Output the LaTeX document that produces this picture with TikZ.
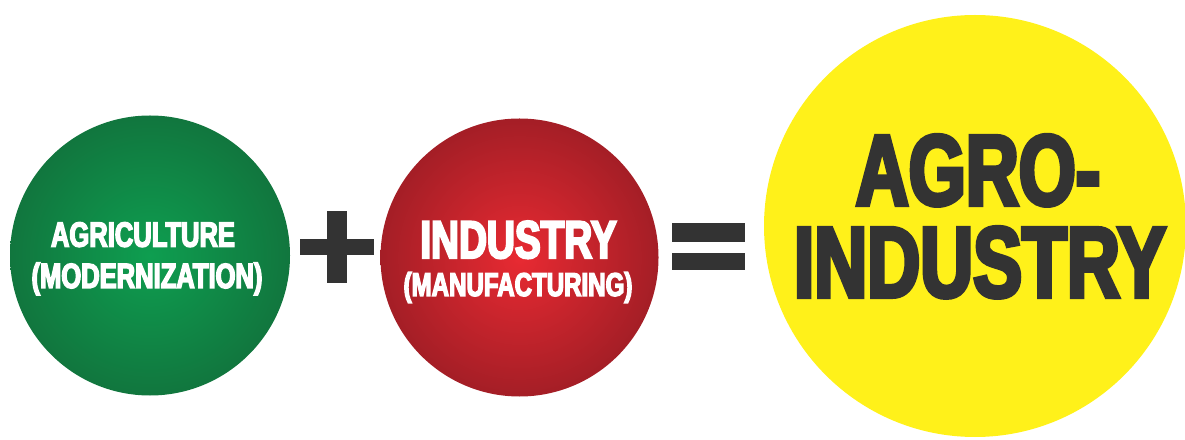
\documentclass[tikz,border=0pt]{standalone}
\usepackage{fontspec}
\newfontfamily\condfont[FakeStretch=0.73, BoldFeatures={FakeBold=4}]{Liberation Sans}
\usetikzlibrary{positioning}
\definecolor{agrigreen}{RGB}{14,158,80}
\definecolor{agrigreendark}{RGB}{17,118,62}
\definecolor{indred}{RGB}{232,42,50}
\definecolor{indreddark}{RGB}{164,30,38}
\definecolor{agroyellow}{RGB}{255,241,26}
\definecolor{signgray}{RGB}{51,51,51}

\begin{document}
\begin{tikzpicture}[x=1pt,y=1pt,
    ball/.style={circle, inner sep=0pt, draw=none},
    word/.style={anchor=base, inner sep=0pt, font=\condfont\bfseries\fontsize{#1}{#1}\selectfont}]
                \useasboundingbox (0,0) rectangle (1185,439);
                \node[ball, minimum size=280pt, inner color=agrigreen, outer color=agrigreendark] (agri) at (150,183.5) {};
                \node[ball, minimum size=278pt, inner color=indred, outer color=indreddark] (indus) at (519.5,181.5) {};
                \node[ball, minimum size=422pt, fill=agroyellow] (agro) at (975,213) {};
                \node[word=35, text=white] (agritop) at (143,192.3) {AGRICULTURE};
                \node[word=35, text=white] (agribot) at (147,151) {(MODERNIZATION)};
                \node[word=53, text=white] (industop) at (518.5,181) {INDUSTRY};
                \node[word=33, text=white] (indusbot) at (518,143) {(MANUFACTURING)};
                \node[word=100.5, text=signgray] (agrotop) at (978,234) {AGRO-};
                \node[word=100.5, text=signgray] (agrobot) at (980,142) {INDUSTRY};
                \fill[signgray] (300,184) rectangle (374,200);
                \fill[signgray] (327,156) rectangle (347,228);
                \fill[signgray] (672,197) rectangle (745,216);
                \fill[signgray] (672,169) rectangle (745,186);
            \end{tikzpicture}
\end{document}
